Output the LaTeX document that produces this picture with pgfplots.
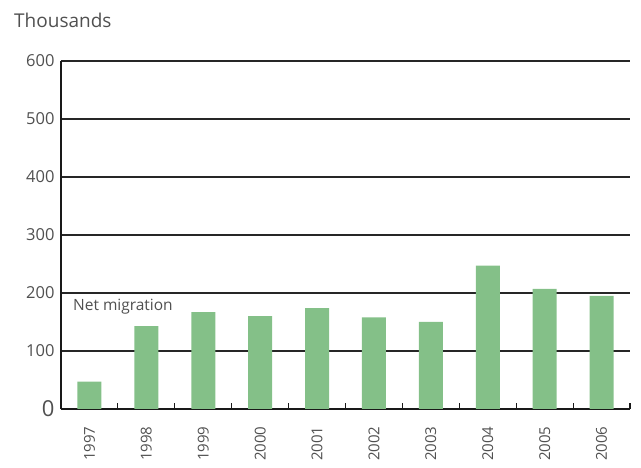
\documentclass[border=0pt]{standalone}
\usepackage{fontspec}
\setmainfont{Open Sans}
\usepackage{pgfplots}
\pgfplotsset{compat=1.18}
\definecolor{barg}{RGB}{132,192,136}
\definecolor{txt}{RGB}{80,80,80}
\begin{document}
\begin{tikzpicture}
\path[use as bounding box] (0,0) rectangle (641bp,468bp);
\node[anchor=base west, font=\fontsize{19bp}{22bp}\selectfont, text=txt, inner sep=0] at (14bp,440bp) {Thousands};
\begin{axis}[
  at={(61bp,59bp)}, anchor=south west,
  scale only axis, width=569bp, height=348bp,
  xmin=-0.5, xmax=9.5, ymin=0, ymax=600,
  axis x line=bottom, axis y line=left,
  axis line style={-, line width=1.6pt, black!90},
  ytick={0,100,...,600},
  yticklabels={{\fontsize{22bp}{24bp}\selectfont 0},100,200,300,400,500,600},
  ymajorgrids, grid style={line width=1.1pt, black!85},
  xtick={0,...,9},
  xticklabels={1997,1998,1999,2000,2001,2002,2003,2004,2005,2006},
  minor xtick={0.5,1.5,...,9.5},
  major tick length=0pt, minor tick length=6bp,
  tick align=inside,
  minor tick style={line width=1.2pt, black!90},
  x tick label style={rotate=90, anchor=east, font=\fontsize{15bp}{17bp}\selectfont, text=txt},
  y tick label style={font=\fontsize{16.5bp}{18bp}\selectfont, text=txt},
  xticklabel shift=14bp, yticklabel shift=3bp,
  /pgf/number format/assume math mode=true,
]
\addplot[ybar, bar width=24bp, fill=barg, draw=none] coordinates {
  (0,47) (1,143) (2,167) (3,160) (4,174) (5,158) (6,150) (7,247) (8,207) (9,195)
};
\node[anchor=base west, font=\fontsize{15.5bp}{17bp}\selectfont, text=txt, inner sep=0] at (axis cs:-0.29,170) {Net migration};
\end{axis}
\end{tikzpicture}
\end{document}
